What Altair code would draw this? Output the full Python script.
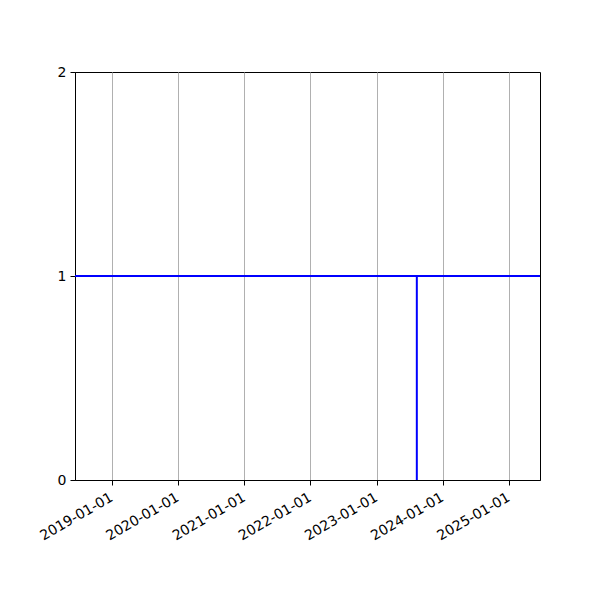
import altair as alt
import pandas as pd

# ---- data ----
x_domain = ["2018-06-11", "2025-06-21"]
x_tick_dates = ["2019-01-01", "2020-01-01", "2021-01-01", "2022-01-01",
                "2023-01-01", "2024-01-01", "2025-01-01"]
y_domain = [0, 2]
y_ticks = [0, 1, 2]
hline_values = [1]
vline_dates = ["2023-08-11"]
vline_bottom = [0]
vline_top = [1]


def ms(s):
    return int(pd.Timestamp(s, tz="UTC").timestamp() * 1000)


x_scale = alt.Scale(type="utc", domain=[ms(s) for s in x_domain])
y_scale = alt.Scale(domain=y_domain, nice=False, zero=False)

x_axis = alt.Axis(
    title=None,
    values=[ms(s) for s in x_tick_dates],
    labelExpr="utcFormat(datum.value, '%Y-%m-%d')",
    labelAngle=-30,
    labelAlign="right",
    labelBaseline="top",
    labelOverlap=False,
    labelOffset=-4,
    labelPadding=5,
    grid=True,
    gridColor="#b0b0b0",
    gridWidth=1,
)
y_axis = alt.Axis(title=None, values=y_ticks, labelExpr="format(datum.value, 'd')",
                  grid=False, labelOverlap=False, labelPadding=4)

vdf = pd.DataFrame({"date": [ms(s) for s in vline_dates],
                    "y0": vline_bottom, "y1": vline_top})
hdf = pd.DataFrame({"y": hline_values})

vline = alt.Chart(vdf).mark_rule(color="#0000ff", strokeWidth=2).encode(
    x=alt.X("date:T", scale=x_scale, axis=x_axis),
    y=alt.Y("y0:Q", scale=y_scale, axis=y_axis),
    y2="y1:Q",
)

hline = alt.Chart(hdf).mark_rule(color="#0000ff", strokeWidth=2).encode(
    y=alt.Y("y:Q", scale=y_scale, axis=y_axis),
)

chart = (
    alt.layer(vline, hline)
    .properties(
        width=465,
        height=408,
        padding={"left": 67, "top": 64, "right": 52, "bottom": 112},
        autosize="none",
        background="white",
    )
    .configure_view(stroke="black", strokeWidth=1)
    .configure_axis(
        labelFont="DejaVu Sans",
        labelFontSize=14,
        labelColor="black",
        domainColor="black",
        domainWidth=1,
        tickColor="black",
        tickWidth=1,
        tickSize=5,
    )
)

chart.save("out.html", embed_options={"renderer": "svg", "actions": False})
